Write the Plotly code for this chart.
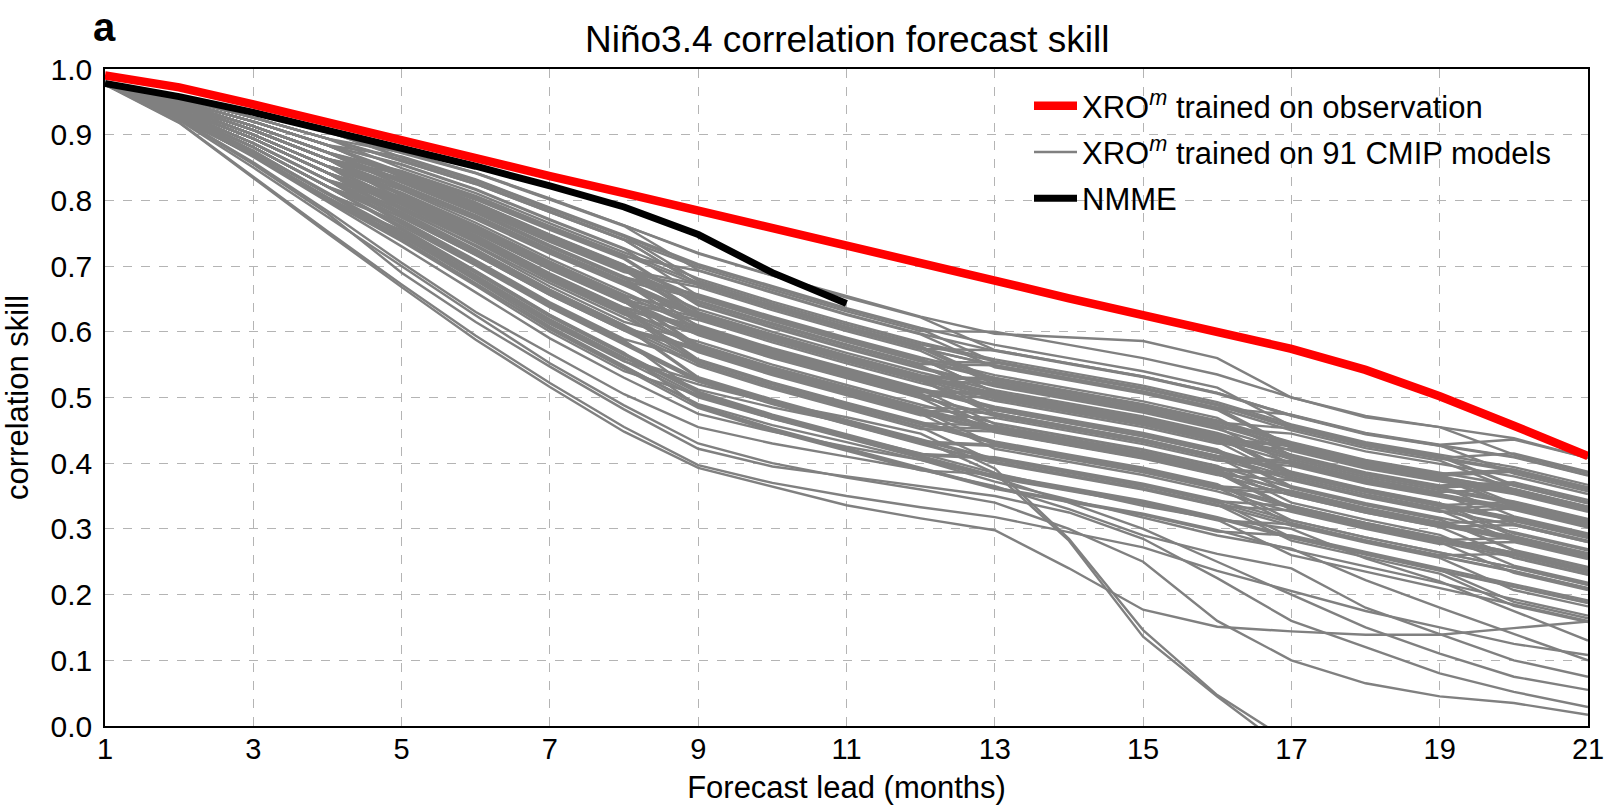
import plotly.graph_objects as go

leads = list(range(1, 22))
x_ticks = [1, 3, 5, 7, 9, 11, 13, 15, 17, 19, 21]
y_ticks = [0.0, 0.1, 0.2, 0.3, 0.4, 0.5, 0.6, 0.7, 0.8, 0.9, 1.0]
y_tick_labels = ["0.0", "0.1", "0.2", "0.3", "0.4", "0.5", "0.6", "0.7", "0.8", "0.9", "1.0"]

xro_obs_skill = [0.990, 0.972, 0.946, 0.918, 0.891, 0.864, 0.837, 0.811, 0.785, 0.758, 0.732,
                 0.705, 0.678, 0.651, 0.626, 0.601, 0.574, 0.542, 0.502, 0.457, 0.411]
nmme_leads = list(range(1, 12))
nmme_skill = [0.978, 0.958, 0.934, 0.907, 0.880, 0.852, 0.822, 0.790, 0.748, 0.690, 0.643]

# 91 CMIP-trained XRO skill curves (thousandths), leads 1..21
cmip_skill = [
    [979,958,933,904,874,842,803,762,720,686,654,623,597,592,586,560,500,470,455,438,408],
    [978,958,933,905,872,841,801,761,694,660,627,597,571,551,531,506,472,444,426,409,381],
    [977,955,926,894,873,842,802,762,719,685,652,622,572,552,532,507,473,445,427,384,357],
    [978,955,926,894,862,827,784,742,698,664,631,601,600,580,560,535,500,472,455,413,385],
    [976,958,933,905,865,830,787,745,701,667,634,604,554,534,514,489,455,428,409,390,363],
    [977,955,926,894,860,825,782,740,672,637,605,575,549,529,509,484,474,446,428,436,408],
    [978,951,920,884,867,832,789,747,703,669,636,606,580,560,540,515,457,430,411,367,340],
    [976,951,920,884,843,805,759,715,693,659,626,596,546,526,506,481,423,396,376,357,330],
    [977,955,926,894,849,811,765,721,675,640,608,578,527,507,487,462,429,402,382,388,361],
    [978,951,920,884,855,817,771,727,681,646,614,584,558,538,518,493,459,432,413,394,367],
    [976,948,913,873,845,807,761,717,671,636,604,574,572,552,532,507,473,445,427,410,382],
    [977,951,920,884,837,794,745,699,651,617,585,555,553,533,513,488,454,427,408,415,387],
    [978,948,913,873,829,786,737,691,668,633,601,571,520,500,480,455,398,371,351,331,304],
    [976,948,913,873,839,796,747,701,653,619,587,557,530,510,490,465,432,405,385,366,339],
    [977,951,920,884,835,792,743,697,625,591,559,529,502,482,462,437,428,401,381,387,360],
    [978,945,907,863,833,790,741,695,647,613,581,551,549,529,509,484,450,423,404,360,333],
    [976,948,913,873,827,781,729,681,655,621,589,559,508,488,468,443,386,360,338,317,291],
    [977,945,907,863,817,771,719,671,621,587,555,525,522,502,482,457,424,397,377,333,306],
    [978,948,913,873,823,777,725,677,627,593,561,531,504,484,464,439,406,379,359,339,312],
    [976,945,907,863,829,783,731,683,657,623,591,561,534,514,494,469,412,385,365,319,293],
    [977,942,900,852,820,774,722,674,624,590,558,528,476,456,436,411,403,376,356,361,334],
    [978,945,907,863,810,760,705,655,628,594,562,532,505,485,465,440,383,357,335,289,263],
    [976,948,913,873,832,789,740,694,622,588,556,526,474,454,434,409,353,327,305,283,257],
    [977,942,900,852,812,762,707,657,606,571,540,510,507,487,467,442,409,382,362,342,315],
    [978,945,907,863,802,752,697,647,596,561,530,500,472,452,432,407,375,349,327,306,280],
    [976,942,900,852,822,776,724,676,602,567,536,506,454,434,414,389,357,331,309,312,286],
    [977,951,920,884,839,796,747,701,629,595,563,533,481,461,441,416,384,358,336,341,314],
    [978,938,894,842,805,755,700,650,599,564,533,503,500,480,460,435,426,399,379,360,333],
    [976,942,900,852,810,760,705,655,628,594,562,532,529,509,489,464,431,404,384,390,363],
    [977,945,907,863,821,775,723,675,601,566,535,505,453,433,413,388,332,306,283,261,235],
    [978,942,900,852,799,746,688,636,607,572,541,511,483,463,443,418,362,336,314,267,241],
    [976,938,894,842,789,736,678,626,597,562,531,501,473,453,433,408,400,373,353,333,306],
    [977,942,900,852,809,759,704,654,579,544,513,483,455,435,415,390,382,356,334,313,287],
    [978,938,894,842,801,751,696,646,571,536,505,475,422,402,382,357,326,300,277,280,254],
    [976,948,913,873,828,782,730,682,608,573,542,512,460,440,420,395,363,337,315,268,242],
    [977,938,894,842,793,740,682,630,577,542,511,481,453,433,413,388,356,330,308,286,260],
    [978,935,887,831,797,744,686,634,581,546,515,485,481,461,441,416,384,358,336,315,289],
    [976,938,894,842,776,719,658,604,574,539,508,478,450,430,410,385,329,303,280,233,207],
    [977,942,900,852,795,742,684,632,555,520,489,459,430,410,390,365,358,332,310,288,262],
    [978,935,887,831,778,721,660,606,576,541,510,480,476,456,436,411,379,353,331,336,309],
    [976,938,894,842,798,745,687,635,558,523,492,462,433,413,393,368,313,287,264,241,215],
    [977,935,887,831,774,717,656,602,548,513,482,452,448,428,408,383,351,325,303,306,280],
    [978,945,907,863,807,757,702,652,577,542,511,481,428,408,388,363,308,282,259,236,210],
    [976,932,881,821,782,725,664,610,556,521,490,460,431,411,391,366,335,309,286,264,238],
    [977,935,887,831,764,703,639,583,526,492,461,431,426,406,386,361,354,328,306,284,258],
    [978,932,881,821,770,709,645,589,557,522,491,461,457,437,417,392,384,358,336,315,289],
    [976,935,887,831,780,723,662,608,529,495,464,434,405,385,365,340,309,283,260,262,236],
    [977,932,881,821,762,701,637,581,524,490,459,429,400,380,360,335,328,302,279,257,231],
    [978,938,894,842,782,725,664,610,531,497,466,436,407,387,367,342,287,262,237,213,188],
    [976,928,874,810,766,705,641,585,528,494,463,433,428,408,388,363,332,306,283,286,260],
    [977,932,881,821,757,692,625,567,509,474,444,414,409,389,369,344,313,287,264,241,215],
    [978,928,874,810,749,684,617,559,525,491,460,430,401,381,361,336,305,279,256,207,182],
    [976,935,887,831,768,707,643,587,506,471,441,411,381,361,341,316,286,261,236,212,187],
    [977,928,874,810,751,686,619,561,503,468,438,408,378,358,338,313,307,281,258,235,209],
    [978,925,868,800,755,690,623,565,507,472,442,412,407,387,367,342,335,309,286,264,238],
    [976,932,881,821,758,693,626,568,486,451,421,391,361,341,321,296,290,265,240,216,191],
    [977,925,868,800,738,670,600,540,504,469,439,409,379,359,339,314,260,235,210,185,160],
    [978,928,874,810,742,674,604,544,484,449,419,389,383,363,343,318,288,263,238,189,164],
    [976,925,868,800,746,678,608,548,488,453,423,393,363,343,323,298,268,243,218,193,168],
    [977,948,913,873,841,803,757,713,642,608,576,546,519,499,479,454,445,418,399,380,353],
    [978,951,920,884,854,816,770,726,655,621,589,559,508,488,468,443,410,383,363,368,341],
    [976,945,907,863,833,790,741,695,672,637,605,575,549,529,509,484,426,399,379,335,308],
    [977,942,900,852,823,777,725,677,651,617,585,555,528,508,488,463,430,403,383,339,312],
    [978,948,913,873,831,788,739,693,645,611,579,549,498,478,458,433,376,350,328,282,256],
    [976,945,907,863,830,784,732,684,634,600,568,538,511,491,471,446,413,386,366,371,344],
    [977,938,894,842,804,754,699,649,622,588,556,526,499,479,459,434,401,374,354,308,282],
    [978,942,900,852,816,766,711,661,610,575,544,514,486,466,446,421,365,339,317,295,269],
    [976,945,907,863,801,751,696,646,595,560,529,499,447,427,407,382,374,348,326,331,304],
    [977,938,894,842,796,743,685,633,604,569,538,508,505,485,465,440,383,357,335,314,288],
    [978,942,900,852,785,732,674,622,569,534,503,473,469,449,429,404,396,369,349,329,302],
    [976,935,887,831,800,747,689,637,608,573,542,512,484,464,444,419,387,361,339,293,267],
    [977,938,894,842,778,721,660,606,552,517,486,456,452,432,412,387,331,305,282,260,234],
    [978,948,913,873,822,776,724,676,626,592,560,530,527,507,487,462,453,426,407,388,361],
    [976,951,920,884,839,801,755,711,640,606,574,544,517,497,477,452,419,392,372,353,326],
    [977,945,907,863,840,797,748,702,630,596,564,534,507,487,467,442,385,359,337,316,290],
    [978,942,900,852,800,750,695,645,618,584,552,522,495,475,455,430,421,394,374,355,328],
    [976,935,887,831,787,730,669,615,585,550,519,489,461,441,421,396,340,314,291,244,218],
    [977,932,881,821,774,717,656,602,572,537,506,476,448,428,408,383,351,325,303,256,230],
    [978,955,926,894,860,825,782,740,672,637,605,575,524,504,484,459,426,399,379,360,333],
    [977,958,933,905,866,831,788,746,678,643,611,581,555,535,515,490,456,429,410,366,339],
    [976,938,894,842,791,738,680,628,551,516,485,455,402,382,362,337,282,257,232,183,158],
    [976,918,834,750,668,588,516,448,393,365,336,316,298,240,177,151,144,139,139,149,159],
    [977,919,836,753,672,594,522,455,397,370,350,333,318,295,272,236,205,175,150,125,108],
    [977,927,870,805,745,680,612,555,520,492,470,445,392,285,146,47,-25,-100,-170,-230,-280],
    [978,930,875,812,752,690,625,565,512,485,462,436,385,282,136,45,-40,-120,-190,-250,-300],
    [976,922,850,775,700,625,552,488,430,400,378,360,340,300,250,160,100,65,45,35,17],
    [977,924,855,780,690,615,547,482,422,395,380,365,350,325,285,225,160,120,80,52,29],
    [978,928,866,798,730,660,590,530,475,448,425,405,378,340,300,250,200,150,110,75,55],
    [976,925,858,784,705,630,567,505,455,430,410,390,365,330,290,262,240,180,140,100,75],
    [977,929,871,803,741,672,606,547,490,458,432,405,372,345,318,290,270,222,180,140,100],
    [978,931,876,810,748,682,615,556,500,468,442,415,385,360,335,315,300,255,220,175,130],
]

label_obs = "XRO<sup><i>m</i></sup> trained on observation"
label_cmip = "XRO<sup><i>m</i></sup> trained on 91 CMIP models"
label_nmme = "NMME"

FONT = "Liberation Sans, Arial, Helvetica, sans-serif"

fig = go.Figure()

for i, row in enumerate(cmip_skill):
    fig.add_trace(go.Scatter(
        x=leads, y=[v / 1000 for v in row], mode="lines",
        line=dict(color="#808080", width=2.4),
        name=label_cmip, legendgroup="cmip", legendrank=2,
        showlegend=(i == 0), hoverinfo="skip",
    ))

fig.add_trace(go.Scatter(
    x=nmme_leads, y=nmme_skill, mode="lines",
    line=dict(color="black", width=7),
    name=label_nmme, legendgroup="nmme", legendrank=3,
))

fig.add_trace(go.Scatter(
    x=leads, y=xro_obs_skill, mode="lines",
    line=dict(color="#ff0000", width=8.5),
    name=label_obs, legendgroup="obs", legendrank=1,
))

L, R, T, B = 105, 16, 69, 79
W, H = 1604, 805
plot_h = H - T - B
plot_w = W - L - R

fig.update_layout(
    width=W, height=H,
    margin=dict(l=L, r=R, t=T, b=B, autoexpand=False),
    paper_bgcolor="white", plot_bgcolor="white",
    font=dict(family=FONT, color="black", size=30),
    showlegend=True,
    legend=dict(
        x=(1029 - L) / plot_w, y=1 - (79 - T) / plot_h,
        xanchor="left", yanchor="top",
        bgcolor="rgba(255,255,255,0)", borderwidth=0,
        font=dict(family=FONT, size=31, color="black"),
        tracegroupgap=3, traceorder="grouped", itemwidth=43,
    ),
)

fig.update_xaxes(
    range=[1, 21], tickvals=x_ticks, ticktext=[str(t) for t in x_ticks],
    showline=True, linecolor="black", linewidth=1.5, mirror=True,
    showgrid=True, gridcolor="#b4b4b4", gridwidth=1, griddash="dash",
    ticks="", ticklabelstandoff=-4, ticklabeloverflow="allow",
    zeroline=False, tickfont=dict(size=29),
    title=dict(text="Forecast lead (months)", font=dict(size=31)),
)
fig.update_yaxes(
    range=[0, 1], tickvals=y_ticks, ticktext=y_tick_labels,
    showline=True, linecolor="black", linewidth=1.5, mirror=True,
    showgrid=True, gridcolor="#b4b4b4", gridwidth=1, griddash="dash",
    ticks="outside", ticklen=5, tickcolor="rgba(0,0,0,0)",
    zeroline=False, tickfont=dict(size=30),
    title=dict(text="correlation skill", font=dict(size=31)),
)

fig.add_annotation(
    text="Niño3.4 correlation forecast skill", showarrow=False,
    xref="paper", yref="paper", x=0.5, y=1 + (T - 40) / plot_h,
    xanchor="center", yanchor="middle", font=dict(size=37, family=FONT),
)
fig.add_annotation(
    text="<b>a</b>", showarrow=False,
    xref="paper", yref="paper", x=(91 - L) / plot_w, y=1 + (T - 27) / plot_h,
    xanchor="left", yanchor="middle", font=dict(size=40, family=FONT),
)

fig.write_html("out.html")
